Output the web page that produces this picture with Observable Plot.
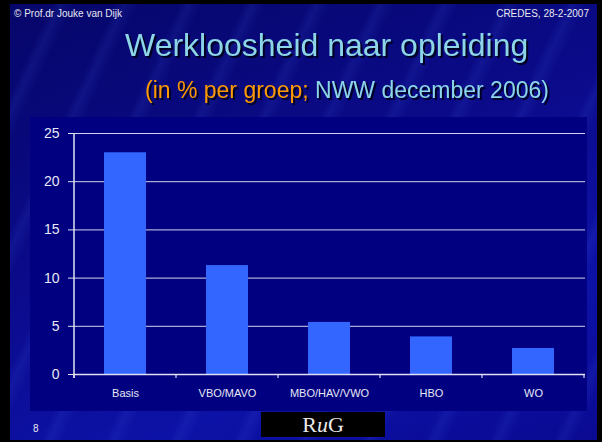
<!DOCTYPE html>
<html>
<head>
<meta charset="utf-8">
<script src="https://cdn.jsdelivr.net/npm/d3@7"></script>
<script src="https://cdn.jsdelivr.net/npm/@observablehq/plot@0.6"></script>
<style>
  html, body { margin: 0; padding: 0; background: #000; }
  #slide {
    position: relative; width: 602px; height: 442px; overflow: hidden;
    background: #000;
  }
  #bg {
    position: absolute; left: 10px; top: 4px; width: 587px; height: 436px;
    background:
      repeating-linear-gradient(115deg, rgba(80,110,255,0.0) 0px, rgba(80,110,255,0.0) 38px, rgba(80,120,255,0.10) 46px, rgba(80,110,255,0.0) 58px),
      linear-gradient(160deg, #06066a 0%, #0b0b8c 45%, #0d12a6 75%, #0a0a92 100%);
  }
  #deco { position: absolute; left: 0; top: 0; }
  #chart { position: absolute; left: 30px; top: 117px; }
  text { font-family: "Liberation Sans", Arial, sans-serif; }
</style>
</head>
<body>
<div id="slide">
  <div id="bg"></div>
  <svg id="deco" width="602" height="442">
    <text x="14" y="17" font-size="10" fill="#e8e8f0">© Prof.dr Jouke van Dijk</text>
    <text x="589" y="17" font-size="10" fill="#e8e8f0" text-anchor="end">CREDES, 28-2-2007</text>
    <text x="125" y="56" font-size="32" fill="#8cd6e8" style="filter: drop-shadow(2px 2px 0 #000022)">Werkloosheid naar opleiding</text>
    <text x="145" y="98" font-size="23" fill="#8cd6e8" style="filter: drop-shadow(2px 2px 0 #000022)"><tspan fill="#ff9a00">(in % per groep;</tspan> NWW december 2006)</text>
    <text x="33" y="432" font-size="10" fill="#e8e8f0">8</text>
    <rect x="261" y="412" width="124" height="25" fill="#000"></rect>
    <text x="323" y="432" font-size="22" fill="#e8e8e8" text-anchor="middle" style="font-family: 'Liberation Serif', 'DejaVu Serif', serif">R<tspan font-style="italic">u</tspan>G</text>
  </svg>
  <div id="chart"></div>
</div>
<script>
const categories = ["Basis", "VBO/MAVO", "MBO/HAV/VWO", "HBO", "WO"];
const values = [23, 11.3, 5.4, 3.9, 2.7];
const yTicks = [0, 5, 10, 15, 20, 25];

const data = categories.map((c, i) => ({cat: c, val: values[i]}));

const plot = Plot.plot({
  width: 557,
  height: 294,
  marginLeft: 43,
  marginRight: 2,
  marginTop: 16,
  marginBottom: 37,
  style: {background: "#000080", color: "#e8e8f4", fontFamily: "Liberation Sans, Arial, sans-serif", overflow: "visible"},
  x: {domain: categories, paddingInner: 0.59, paddingOuter: 0.295, label: null},
  y: {domain: [0, 25], label: null},
  marks: [
    Plot.gridY(yTicks, {stroke: "#d4d4ec", strokeOpacity: 1, strokeWidth: 1}),
    Plot.barY(data, {x: "cat", y: "val", fill: "#3366ff"}),
    Plot.ruleY([0], {stroke: "#e0e0f0", strokeWidth: 1.5}),
    Plot.axisY(yTicks, {tickSize: 5, tickPadding: 9, fontSize: 14, stroke: "#e0e0f0", fill: "#e8e8f4", label: null}),
    Plot.axisX({tickSize: 0, tickPadding: 15, fontSize: 11, fill: "#e8e8f4", label: null})
  ]
});

// axis line on the left and category-boundary ticks, placed with the plot's own scales
const xs = plot.scale("x"), ys = plot.scale("y");
const svg = d3.select(plot.tagName.toLowerCase() === "svg" ? plot : plot.querySelector("svg"));
const y0 = ys.apply(0), yTop = ys.apply(25);
const step = xs.step, half = (xs.step - xs.bandwidth) / 2;
const left = xs.apply(categories[0]) - half;
svg.append("line").attr("x1", left).attr("x2", left).attr("y1", yTop).attr("y2", y0 + 4)
  .attr("stroke", "#e0e0f0").attr("stroke-width", 1.5);
const bounds = categories.map(c => xs.apply(c) - half).concat([xs.apply(categories[categories.length - 1]) - half + step]);
svg.append("g").selectAll("line").data(bounds).join("line")
  .attr("x1", d => d).attr("x2", d => d).attr("y1", y0).attr("y2", y0 + 4)
  .attr("stroke", "#e0e0f0").attr("stroke-width", 1.2);

document.getElementById("chart").appendChild(plot);
</script>
</body>
</html>
